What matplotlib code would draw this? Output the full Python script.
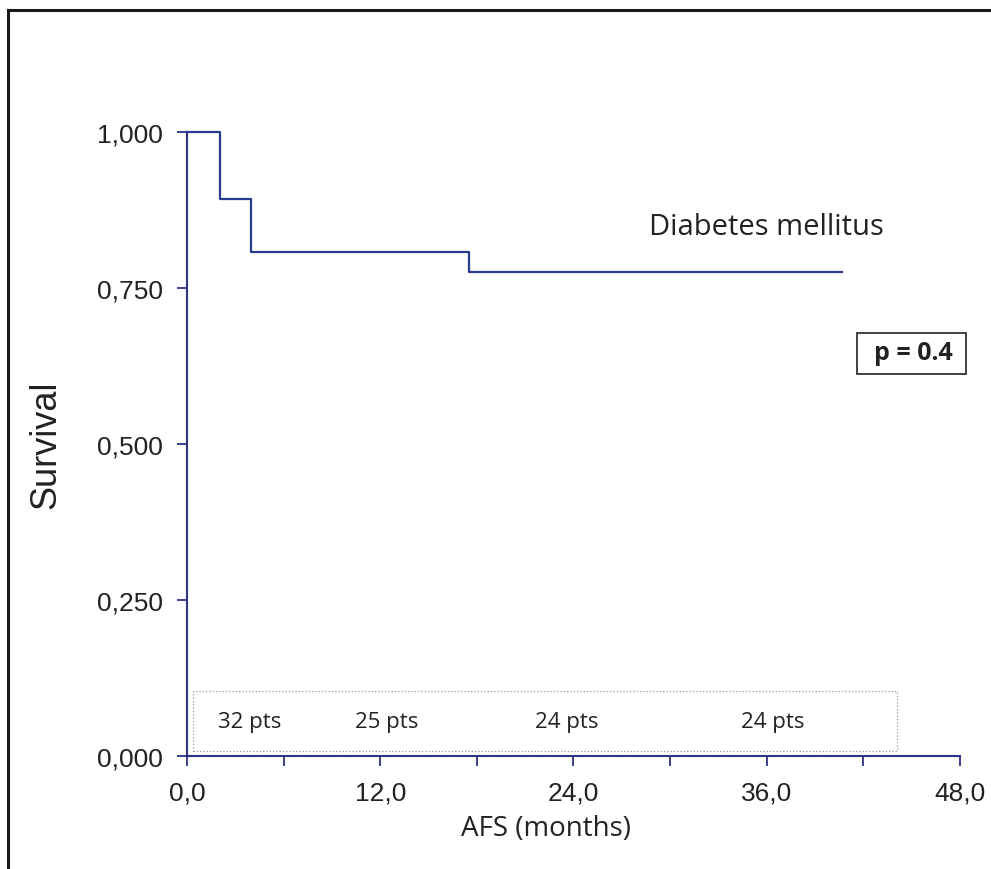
import matplotlib.pyplot as plt
from matplotlib.patches import Rectangle
from matplotlib.lines import Line2D

# Kaplan-Meier estimate (AFS, diabetes mellitus group)
times = [0.0, 2.05, 4.0, 17.5, 40.7]
surv = [1.000, 0.893, 0.807, 0.776, 0.776]

# patients at risk, labelled along the time axis
risk_x = [3.9, 12.4, 23.6, 36.4]
risk_lbl = ['32 pts', '25 pts', '24 pts', '24 pts']

xticks = [0, 12, 24, 36, 48]
xminor = [6, 18, 30, 42]
yticks = [0.0, 0.25, 0.5, 0.75, 1.0]

axis_col = '#2e3282'
line_col = '#2b3b8f'
sans = 'Liberation Sans'
body = 'Open Sans'

fig = plt.figure(figsize=(9.91, 8.7), dpi=100)
ax = fig.add_axes([0.1887, 0.1299, 0.780, 0.7172])

# outer frame (only left and top edges visible)
fig.add_artist(Line2D([0.008, 0.008], [0.0, 0.987], color='#1a1a1a', lw=2.2,
                      transform=fig.transFigure))
fig.add_artist(Line2D([0.008, 1.0], [0.987, 0.987], color='#1a1a1a', lw=2.2,
                      transform=fig.transFigure))

ax.step(times, surv, where='post', color=line_col, lw=1.6, clip_on=False, zorder=3)

ax.set_xlim(0, 48)
ax.set_ylim(0, 1.0)
for s in ['top', 'right']:
    ax.spines[s].set_visible(False)
for s in ['left', 'bottom']:
    ax.spines[s].set_color(axis_col)
    ax.spines[s].set_linewidth(1.5)

ax.set_xticks(xticks)
ax.set_xticklabels([f'{v:.1f}'.replace('.', ',') for v in xticks])
ax.set_xticks(xminor, minor=True)
ax.set_yticks(yticks)
ax.set_yticklabels([f'{v:.3f}'.replace('.', ',') for v in yticks])
ax.tick_params(axis='both', which='both', direction='out', length=7.5, width=1.3,
               color=axis_col, labelcolor='#222222', labelsize=19)
ax.tick_params(axis='x', pad=10)
ax.tick_params(axis='y', pad=10)
for lab in ax.get_xticklabels() + ax.get_yticklabels():
    lab.set_family(sans)

ax.set_ylabel('Survival', family=sans, fontsize=26, color='#222222', labelpad=24)
ax.set_xlabel('AFS (months)', family=body, fontsize=20, color='#222222')
ax.xaxis.set_label_coords(0.464, -0.093)

# at-risk box
ax.add_patch(Rectangle((0.37, 0.008), 43.7, 0.096, fill=False, ec='#999999',
                       ls=':', lw=0.9, clip_on=False))
for x, t in zip(risk_x, risk_lbl):
    ax.text(x, 0.056, t, family=body, fontsize=16, color='#222222',
            ha='center', va='center')

ax.text(36.0, 0.848, 'Diabetes mellitus', family=body, fontsize=21, color='#222222',
        ha='center', va='center')

# p-value box
ax.add_patch(Rectangle((41.6, 0.612), 6.8, 0.066, fill=False, ec='#333333', lw=1.3,
                       clip_on=False))
ax.text(45.1, 0.647, 'p = 0.4', family=body, fontsize=18, fontweight='bold',
        color='#222222', ha='center', va='center')

fig.savefig('out.png', dpi=100)
